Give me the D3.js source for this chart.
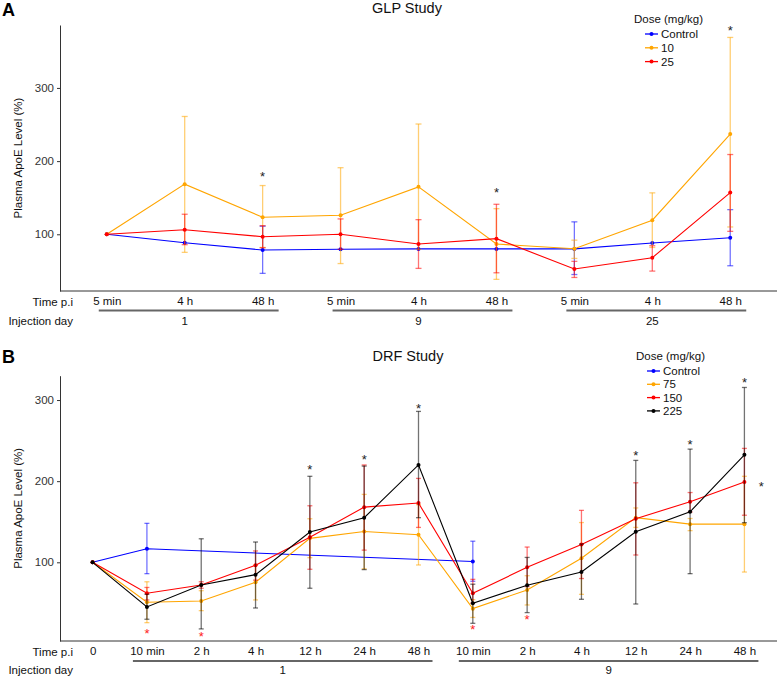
<!DOCTYPE html>
<html>
<head>
<meta charset="utf-8">
<script src="https://cdn.jsdelivr.net/npm/d3@7"></script>
<style>
  body { margin: 0; background: #fff; }
  svg { display: block; font-family: "Liberation Sans", Arial, sans-serif; }
</style>
</head>
<body>
<svg id="chart" width="777" height="678"></svg>
<script>
// ---------------- Panel A: GLP study ----------------
const glpTimeLabels = ["5 min", "4 h", "48 h", "5 min", "4 h", "48 h", "5 min", "4 h", "48 h"];
const glpDayLabels = ["1", "9", "25"];
const glpDayStart = [0, 3, 6];
const glpDayEnd = [2, 5, 8];
const glpSeriesNames = ["Control", "10", "25"];
const glpControlMean = [100, 88.5, 78.5, 79.5, 80, 80, 80, 88, 95.3];
const glpControlLo   = [null, null, 46.6, null, null, null, 45, null, 57];
const glpControlHi   = [null, null, 111, null, null, null, 117, null, 133.7];
const glp10Mean = [100, 168.5, 123.3, 126, 164.8, 86.7, 80.3, 119.2, 237];
const glp10Lo   = [null, 75.3, 82, 60, 79.5, 38.4, 67, 82, 110];
const glp10Hi   = [null, 261, 166.6, 191, 250.7, 135, 92, 156.6, 369];
const glp25Mean = [100, 106.3, 96.7, 100, 86.7, 94, 52.5, 68, 157];
const glp25Lo   = [null, 85.8, 81.6, 79.5, 53.4, 47.4, 41, 49.7, 104];
const glp25Hi   = [null, 127.4, 111.8, 121, 120, 141, 63, 84.4, 209];
// asterisks: category index, value level, colour key
const glpStarIndex = [2, 5, 8];
const glpStarValue = [180, 158, 379];
const glpStarOffset = [0, 0, 0];
const glpStarColor = ["black", "black", "black"];
const glpYTicks = [100, 200, 300];

// ---------------- Panel B: DRF study ----------------
const drfTimeLabels = ["0", "10 min", "2 h", "4 h", "12 h", "24 h", "48 h", "10 min", "2 h", "4 h", "12 h", "24 h", "48 h"];
const drfDayLabels = ["1", "9"];
const drfDayStart = [1, 7];
const drfDayEnd = [6, 12];
const drfSeriesNames = ["Control", "75", "150", "225"];
const drfControlMean = [100, 116.7, null, null, null, null, null, 101, null, null, null, null, null];
const drfControlLo   = [null, 86, null, null, null, null, null, 76.6, null, null, null, null, null];
const drfControlHi   = [null, 148, null, null, null, null, null, 126, null, null, null, null, null];
const drf75Mean = [100, 50.7, 52.3, 75.4, 129.5, 138, 134, 42.9, 65.9, 105, 155, 147, 147];
const drf75Lo   = [null, 25.6, 40.4, 53.6, 105.7, 92, 96.7, 32, 47.4, 60.5, 143, 139, 88];
const drf75Hi   = [null, 76, 65, 96.7, 153.7, 183.7, 171, 54, 83.5, 149, 167, 154, 206];
const drf150Mean = [100, 61.8, 72, 96.3, 130.8, 168, 173, 61.8, 93.8, 122, 153.7, 174.7, 199];
const drf150Lo   = [null, 53.6, 68, 78, 91.4, 115, 143, 50, 70, 80, 109, 162, 158];
const drf150Hi   = [null, 69, 76, 114, 169.7, 220, 203.4, 79, 118.8, 164, 198, 186, 240.4];
const drf225Mean = [100, 45, 72, 84.8, 137.3, 155, 220, 49.5, 71.7, 88, 137.7, 162.3, 232.5];
const drf225Lo   = [null, 29.8, 17.9, 43.7, 68, 91, 155, 24.8, 38, 54.4, 48.6, 86, 148.8];
const drf225Hi   = [null, 60.6, 129, 125, 206, 218.6, 286, 73, 106, 122.5, 225.6, 239.5, 315.5];
const drfStarIndex  = [4, 5, 6, 10, 11, 12, 12, 1, 2, 7, 8];
const drfStarOffset = [0, 0, 0, 0, 0, 0, 0.31, 0, 0, 0, 0];
const drfStarValue  = [214.5, 226.8, 290, 232, 245.7, 322, 194, 13.3, 9.6, 17.9, 29.8];
const drfStarColor  = ["black", "black", "black", "black", "black", "black", "black", "red", "red", "red", "red"];
const drfYTicks = [100, 200, 300];

// ---------------- styles ----------------
const colorMap = { "Control": "#0000FF", "10": "#FFA500", "25": "#FF0000", "75": "#FFA500", "150": "#FF0000", "225": "#000000" };
const starColors = { black: "#222", red: "#FF2020" };
const FONT = 11.5;

const svg = d3.select("#chart");

function drawPanel(cfg) {
  const g = svg.append("g");
  const n = cfg.times.length;
  const x = d3.scalePoint().domain(d3.range(n)).range([cfg.left, cfg.right]).padding(0.6);
  const y = d3.scaleLinear().domain(cfg.yDomain).range([cfg.bottom, cfg.top]);
  const step = x.step();

  // panel letter
  g.append("text").attr("x", 2).attr("y", cfg.letterY).attr("font-size", 18).attr("font-weight", "bold")
    .attr("fill", "#000").text(cfg.letter);
  // title
  g.append("text").attr("x", cfg.titleX).attr("y", cfg.titleY).attr("text-anchor", "middle")
    .attr("font-size", 14.5).attr("fill", "#111").text(cfg.title);

  // Y axis
  const yAxis = g.append("g").attr("transform", `translate(${cfg.left},0)`)
    .call(d3.axisLeft(y).tickValues(cfg.yTicks).tickSize(3).tickPadding(3).tickSizeOuter(0));
  yAxis.select(".domain").attr("stroke", "#333");
  yAxis.selectAll(".tick line").attr("stroke", "#333");
  yAxis.selectAll("text").attr("font-size", FONT).attr("fill", "#333").attr("font-family", "Liberation Sans, Arial, sans-serif");

  // X axis
  const xAxis = g.append("g").attr("transform", `translate(0,${cfg.bottom})`)
    .call(d3.axisBottom(x).tickFormat(i => cfg.times[i]).tickSizeInner(0).tickSizeOuter(0).tickPadding(6));
  xAxis.select(".domain").attr("stroke", "#333").attr("d", `M${cfg.left},0H${cfg.right}`);
  xAxis.selectAll("text").attr("font-size", FONT).attr("fill", "#111").attr("font-family", "Liberation Sans, Arial, sans-serif");

  // y label
  g.append("text").attr("transform", `translate(${cfg.ylabX},${(cfg.top + cfg.bottom) / 2}) rotate(-90)`)
    .attr("text-anchor", "middle").attr("font-size", FONT).attr("fill", "#111").text("Plasma ApoE Level (%)");

  // row labels
  g.append("text").attr("x", 73).attr("y", cfg.bottom + 15).attr("text-anchor", "end")
    .attr("font-size", FONT).attr("fill", "#111").text("Time p.i");
  g.append("text").attr("x", 73).attr("y", cfg.dayLabelY).attr("text-anchor", "end")
    .attr("font-size", FONT).attr("fill", "#111").text("Injection day");

  // day group underlines
  cfg.dayLabels.forEach((lab, k) => {
    const x0 = x(cfg.dayStart[k]) - cfg.ulLeft;
    const x1 = x(cfg.dayEnd[k]) + cfg.ulRight;
    g.append("line").attr("x1", x0).attr("x2", x1).attr("y1", cfg.ulY).attr("y2", cfg.ulY)
      .attr("stroke", "#666").attr("stroke-width", 2);
    g.append("text").attr("x", (x(cfg.dayStart[k]) + x(cfg.dayEnd[k])) / 2).attr("y", cfg.dayLabelY)
      .attr("text-anchor", "middle").attr("font-size", FONT).attr("fill", "#111").text(lab);
  });

  // series
  cfg.series.forEach(s => {
    const col = colorMap[s.name];
    const pts = s.mean.map((v, i) => ({ i, v, lo: s.lo[i], hi: s.hi[i] })).filter(d => d.v != null);
    // error bars
    const eb = pts.filter(d => d.lo != null && d.hi != null);
    const eg = g.append("g").attr("stroke", col).attr("stroke-opacity", 0.55).attr("stroke-width", 1.3).attr("fill", "none");
    eb.forEach(d => {
      eg.append("line").attr("x1", x(d.i)).attr("x2", x(d.i)).attr("y1", y(d.lo)).attr("y2", y(d.hi));
      eg.append("line").attr("x1", x(d.i) - cfg.cap).attr("x2", x(d.i) + cfg.cap).attr("y1", y(d.lo)).attr("y2", y(d.lo));
      eg.append("line").attr("x1", x(d.i) - cfg.cap).attr("x2", x(d.i) + cfg.cap).attr("y1", y(d.hi)).attr("y2", y(d.hi));
    });
    const line = d3.line().x(d => x(d.i)).y(d => y(d.v));
    g.append("path").datum(pts).attr("d", line).attr("fill", "none").attr("stroke", col).attr("stroke-width", 1.1);
    g.selectAll(null).data(pts).enter().append("circle")
      .attr("cx", d => x(d.i)).attr("cy", d => y(d.v)).attr("r", 2).attr("fill", col);
  });

  // asterisks
  cfg.starIndex.forEach((si, k) => {
    g.append("text").attr("x", x(si) + cfg.starOffset[k] * step).attr("y", y(cfg.starValue[k]) + 5)
      .attr("text-anchor", "middle").attr("font-size", 13).attr("fill", starColors[cfg.starColor[k]]).text("*");
  });

  // legend
  const lg = g.append("g");
  lg.append("text").attr("x", cfg.legX).attr("y", cfg.legY).attr("font-size", FONT).attr("fill", "#111").text("Dose (mg/kg)");
  cfg.series.forEach((s, k) => {
    const yy = cfg.legY + 11 + k * cfg.legStep;
    const col = colorMap[s.name];
    lg.append("line").attr("x1", cfg.legX + 11).attr("x2", cfg.legX + 24).attr("y1", yy).attr("y2", yy)
      .attr("stroke", col).attr("stroke-width", 1.3);
    lg.append("circle").attr("cx", cfg.legX + 17.5).attr("cy", yy).attr("r", 2).attr("fill", col);
    lg.append("text").attr("x", cfg.legX + 27).attr("y", yy).attr("dy", "0.35em").attr("font-size", FONT)
      .attr("fill", "#111").text(s.name);
  });
}

drawPanel({
  letter: "A", letterY: 16, title: "GLP Study", titleX: 407, titleY: 13,
  times: glpTimeLabels, left: 60, right: 777, top: 25, bottom: 291, yDomain: [22.5, 386], yTicks: glpYTicks,
  ylabX: 22, dayLabels: glpDayLabels, dayStart: glpDayStart, dayEnd: glpDayEnd,
  ulLeft: 8, ulRight: 16, ulY: 310.5, dayLabelY: 325, cap: 3,
  series: [
    { name: glpSeriesNames[0], mean: glpControlMean, lo: glpControlLo, hi: glpControlHi },
    { name: glpSeriesNames[1], mean: glp10Mean, lo: glp10Lo, hi: glp10Hi },
    { name: glpSeriesNames[2], mean: glp25Mean, lo: glp25Lo, hi: glp25Hi }
  ],
  starIndex: glpStarIndex, starValue: glpStarValue, starOffset: glpStarOffset, starColor: glpStarColor,
  legX: 634, legY: 23, legStep: 13.8
});

drawPanel({
  letter: "B", letterY: 363, title: "DRF Study", titleX: 408, titleY: 360.5,
  times: drfTimeLabels, left: 60, right: 777, top: 375.7, bottom: 641, yDomain: [3, 330], yTicks: drfYTicks,
  ylabX: 22, dayLabels: drfDayLabels, dayStart: drfDayStart, dayEnd: drfDayEnd,
  ulLeft: 14, ulRight: 14, ulY: 661, dayLabelY: 674, cap: 2.5,
  series: [
    { name: drfSeriesNames[0], mean: drfControlMean, lo: drfControlLo, hi: drfControlHi },
    { name: drfSeriesNames[1], mean: drf75Mean, lo: drf75Lo, hi: drf75Hi },
    { name: drfSeriesNames[2], mean: drf150Mean, lo: drf150Lo, hi: drf150Hi },
    { name: drfSeriesNames[3], mean: drf225Mean, lo: drf225Lo, hi: drf225Hi }
  ],
  starIndex: drfStarIndex, starValue: drfStarValue, starOffset: drfStarOffset, starColor: drfStarColor,
  legX: 636, legY: 360, legStep: 13.3
});
</script>
</body>
</html>
